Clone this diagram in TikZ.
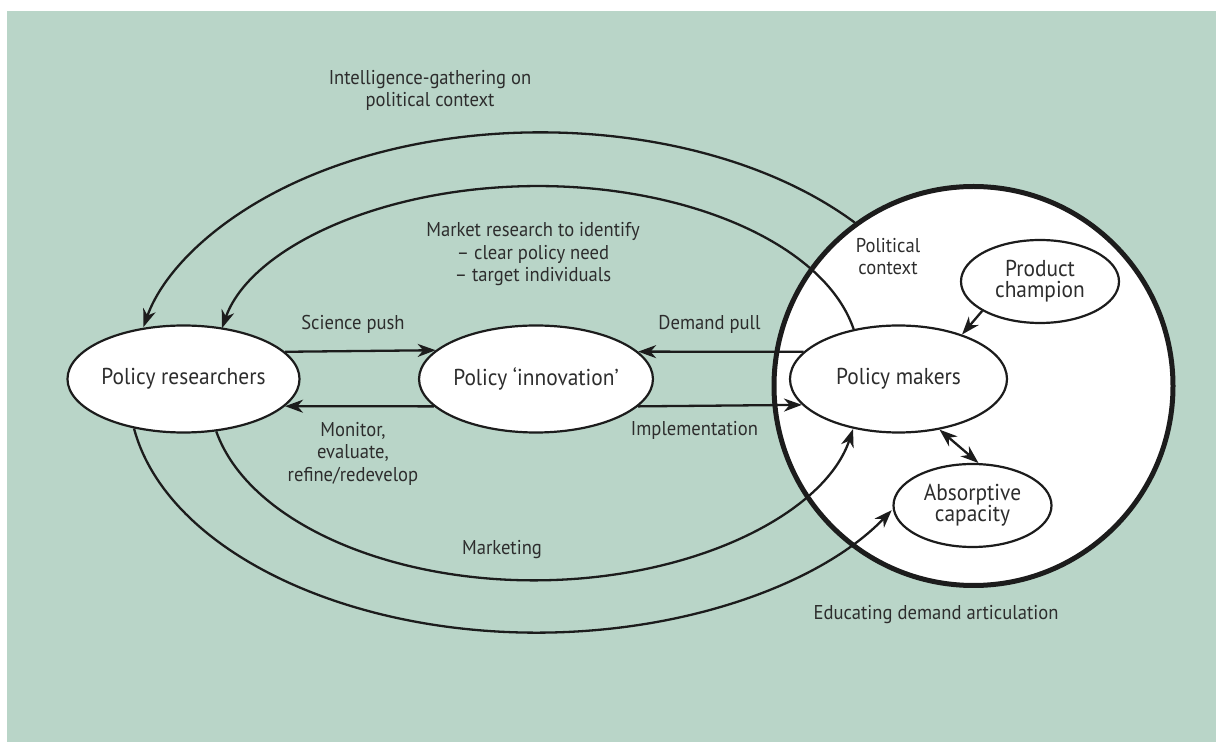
\documentclass[tikz,border=0pt]{standalone}
\usepackage{fontspec}
\setmainfont{PT Sans}[FakeStretch=0.93]
\usetikzlibrary{arrows.meta,shapes.geometric}

\definecolor{bgc}{RGB}{185,213,200}
\definecolor{inkc}{RGB}{28,28,28}
\definecolor{txtc}{RGB}{45,45,45}

\newcommand\pdnodefont{\fontsize{11.5}{10.5}\selectfont}
\newcommand\pdlabelfont{\fontsize{10}{11.25}\selectfont}

\begin{document}
\begin{tikzpicture}[x=0.5pt,y=-0.5pt,
  oval/.style={ellipse, draw=inkc, line width=1.1pt, fill=white, inner sep=0pt,
    minimum width=108.5pt, minimum height=53.5pt, font=\pdnodefont, text=txtc, align=center},
  small oval/.style={oval, minimum width=79pt, minimum height=41.5pt},
  lbl/.style={font=\pdlabelfont, text=txtc, align=center, inner sep=0pt},
  conn/.style={draw=inkc, line width=1.15pt},
  arr/.style={conn, -{Stealth[length=9pt,width=6.5pt,inset=2.8pt]}},
  twoarr/.style={conn, {Stealth[length=9pt,width=6.5pt,inset=2.8pt]}-{Stealth[length=9pt,width=6.5pt,inset=2.8pt]}},
]
% canvas and page frame
\useasboundingbox (0,0) rectangle (1216,742);
\fill[bgc] (7,11) rectangle (1216,742);

% political context (large circle)
\node[circle, draw=inkc, line width=2.5pt, fill=white, inner sep=0pt, minimum size=199.5pt] (ctx) at (973.5,386) {};

% main actors
\node[oval] (pr) at (183.5,379) {Policy researchers};
\node[oval] (pi) at (536,379) {Policy ‘innovation’};
\node[oval] (pm) at (898.5,379) {Policy makers};
\node[small oval] (pc) at (1040,281.5) {Product\\champion};
\node[small oval] (ac) at (972.5,505.5) {Absorptive\\capacity};

% straight flows
\draw[arr] (pr.15.8) -- (pi.164.2);
\draw[arr] (pi.195.8) -- (pr.-15.8);
\draw[arr] (pm.164.2) -- (pi.15.8);
\draw[arr] (pi.-15.8) -- (pm.195.8);
\draw[arr] (pc.207) -- (pm.35);
\draw[twoarr] (pm.-51) -- (ac.82);

% elliptical feedback loops
\draw[arr] (pm.132) arc[start angle=-10.5, end angle=-169.2, x radius=321.4, y radius=175];
\draw[arr] (ctx.126.6) arc[start angle=-39.4, end angle=-167.8, x radius=406.5, y radius=247];
\draw[arr] (pr.-58) arc[start angle=168.5, end angle=10.75, x radius=324.5, y radius=186];
\draw[arr] (pr.-135) arc[start angle=171, end angle=29.6, x radius=408, y radius=242];

% labels
\node[lbl] (l-intel) at (430,90.5) {Intelligence-gathering on\\political context};
\node[lbl] (l-market) at (533,254.5) {Market research to identify\\– clear policy need\\– target individuals};
\node[lbl] (l-push) at (353,324) {Science push};
\node[lbl] (l-monitor) at (353,453.5) {Monitor,\\evaluate,\\refine/redevelop};
\node[lbl] (l-pull) at (709.5,324) {Demand pull};
\node[lbl] (l-impl) at (694.5,430) {Implementation};
\node[lbl] (l-mkt) at (502,550) {Marketing};
\node[lbl] (l-edu) at (936,614.5) {Educating demand articulation};
\node[lbl] (l-pol) at (888,256.5) {Political\\context};
\end{tikzpicture}
\end{document}
